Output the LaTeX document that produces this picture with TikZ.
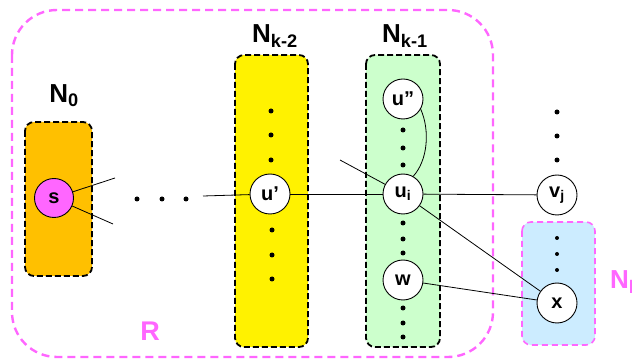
\documentclass[tikz,border=0pt]{standalone}
\usepackage{fontspec}
\setmainfont{Liberation Sans}
\definecolor{rpink}{RGB}{255,102,255}
\definecolor{orangefill}{RGB}{255,192,0}
\definecolor{greenfill}{RGB}{204,255,204}
\definecolor{bluefill}{RGB}{204,236,255}
\begin{document}
\begin{tikzpicture}[x=1pt,y=-1pt,
  vtx/.style={circle,draw=black,line width=0.9pt,fill=white,minimum size=40pt,inner sep=0pt,font=\fontsize{20}{22}\selectfont\bfseries},
  layerbox/.style={draw=black,line width=1.8pt,dash pattern=on 6pt off 3pt,rounded corners=9pt},
  layerlab/.style={font=\fontsize{26}{30}\selectfont\bfseries},
  edge/.style={line width=0.8pt},
  dotmark/.style={circle,fill=black,inner sep=0pt,minimum size=5pt}]
\useasboundingbox (0,0) rectangle (632,363);

% region R
\draw[rpink,line width=2.4pt,dash pattern=on 8pt off 5pt,rounded corners=45pt] (12,10) rectangle (493,357);
\node[text=rpink,font=\fontsize{27}{30}\selectfont\bfseries] (Rlab) at (150,331) {R};

% layer boxes
\draw[layerbox,fill=orangefill] (25,122) rectangle (92,276);
\draw[layerbox,fill=yellow] (235,55) rectangle (308,347);
\draw[layerbox,fill=greenfill] (366,55) rectangle (440,347);
\draw[fill=bluefill,draw=rpink,line width=1.6pt,dash pattern=on 6pt off 4pt,rounded corners=9pt] (522,222) rectangle (595,345);

% layer labels
\node[layerlab] (L0) at (64,96) {N\textsubscript{0}};
\node[layerlab] (L2) at (275,36) {N\textsubscript{k-2}};
\node[layerlab] (L1) at (405,36) {N\textsubscript{k-1}};
\node[layerlab,text=rpink,anchor=west,inner sep=0pt] (Ll) at (610,282) {N\textsubscript{l}};

% free ends
\coordinate (s1) at (115,178);
\coordinate (s2) at (113,224);
\coordinate (d0) at (203,196);
\coordinate (ui0) at (340,160);

% dots of the path
\node[dotmark] (p1) at (137,199) {};
\node[dotmark] (p2) at (162,199) {};
\node[dotmark] (p3) at (186,199) {};

% vertical dots
\foreach \n/\x/\y in {a1/271/111,a2/271/135,a3/271/160,a4/272/230,a5/272/255,a6/272/279,
  b1/403/130,b2/403/148,b3/403/165,b4/403/223,b5/403/239,b6/403/253,
  b7/403/308,b8/403/323,b9/403/337,
  c1/557/112,c2/557/136,c3/557/160}
  \node[dotmark] (\n) at (\x,\y) {};
\foreach \n/\y in {c4/238,c5/254,c6/270}
  \node[dotmark,minimum size=4pt] (\n) at (557,\y) {};

% vertices
\node[vtx,fill=rpink,minimum size=39pt] (s) at (54,198) {s};
\node[vtx] (up) at (270,194) {u’};
\node[vtx] (upp) at (403,99) {u”};
\node[vtx] (ui) at (403,194) {u\textsubscript{i}};
\node[vtx] (w) at (403,280) {w};
\node[vtx] (vj) at (557,195) {v\textsubscript{j}};
\node[vtx] (xx) at (557,303) {x};

% edges
\draw[edge] (s) -- (s1);
\draw[edge] (s) -- (s2);
\draw[edge] (d0) -- (up);
\draw[edge] (up) -- (ui);
\draw[edge] (ui0) -- (ui);
\draw[edge] (ui) -- (vj);
\draw[edge] (ui) -- (xx);
\draw[edge] (w) -- (xx);
\draw[edge] (upp.-30) .. controls (430,130) and (428,160) .. (ui.60);
\end{tikzpicture}
\end{document}
